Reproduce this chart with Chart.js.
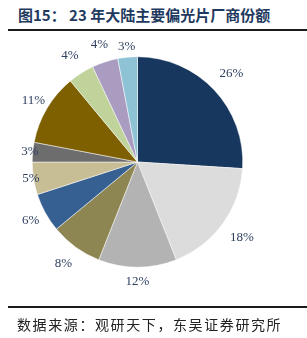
<!DOCTYPE html>
<html>
<head>
<meta charset="utf-8">
<script src="https://cdn.jsdelivr.net/npm/chart.js@4.4.0/dist/chart.umd.min.js"></script>
<style>
    html, body { margin: 0; padding: 0; background: #fff; }
    body { width: 307px; height: 338px; position: relative; overflow: hidden; }
    #title {
        position: absolute; left: 18px; top: 4px;
        font: bold 15px "Noto Sans CJK SC", sans-serif;
        color: #1F3A5F; white-space: nowrap;
    }
    #titleLine { position: absolute; left: 8px; right: 0; top: 29px; height: 2px; background: #1a1a1a; }
    #footLine { position: absolute; left: 8px; right: 0; top: 306px; height: 1.5px; background: #1a1a1a; }
    #source {
        position: absolute; left: 17px; top: 314px;
        font: 14px "Noto Sans CJK SC", sans-serif; letter-spacing: 1.6px;
        color: #222; white-space: nowrap;
    }
    #wrap { position: absolute; left: 0; top: 0; width: 307px; height: 338px; }
</style>
</head>
<body>
<div id="title">图15： 23 年大陆主要偏光片厂商份额</div>
<div id="titleLine"></div>
<div id="wrap"><canvas id="pieChart"></canvas></div>
<div id="footLine"></div>
<div id="source">数据来源：观研天下，东吴证券研究所</div>

<script>
// shares, clockwise from 12 o'clock
const labels = ['厂商1', '厂商2', '厂商3', '厂商4', '厂商5', '厂商6', '厂商7', '厂商8', '厂商9', '厂商10', '厂商11'];
const shares = [26, 18, 12, 8, 6, 5, 3, 11, 4, 4, 3];
const sliceColors = ['#17375E', '#DCDCDC', '#B3B3B3', '#8D8652', '#366092', '#C8BE96',
                     '#6D6D6D', '#7F6000', '#BFD39B', '#AA9CC0', '#8EC3D6'];

// distance of each label from the centre (Excel moved some of them in)
const labelDist = [129, 129, 120, 126, 122, 108, 108, 121, 126, 123, 116];

const outsideLabels = {
    id: 'outsideLabels',
    afterDatasetsDraw(chart) {
        const ctx = chart.ctx;
        const meta = chart.getDatasetMeta(0);
        ctx.save();
        ctx.font = '13px "Liberation Serif", serif';
        ctx.fillStyle = '#2E4060';
        ctx.textAlign = 'center';
        ctx.textBaseline = 'middle';
        meta.data.forEach((arc, i) => {
            const p = arc.getProps(['x', 'y', 'startAngle', 'endAngle'], true);
            const mid = (p.startAngle + p.endAngle) / 2;
            const d = labelDist[i];
            ctx.fillText(shares[i] + '%', p.x + Math.cos(mid) * d, p.y + Math.sin(mid) * d);
        });
        ctx.restore();
    }
};

new Chart(document.getElementById('pieChart'), {
    type: 'pie',
    data: {
        labels: labels,
        datasets: [{
            data: shares,
            backgroundColor: sliceColors,
            borderColor: '#ffffff',
            borderWidth: 0.5
        }]
    },
    options: {
        responsive: true,
        maintainAspectRatio: false,
        animation: false,
        layout: { padding: { left: 32, right: 64, top: 56, bottom: 70 } },
        plugins: {
            legend: { display: false },
            tooltip: { enabled: false }
        }
    },
    plugins: [outsideLabels]
});
</script>
</body>
</html>
